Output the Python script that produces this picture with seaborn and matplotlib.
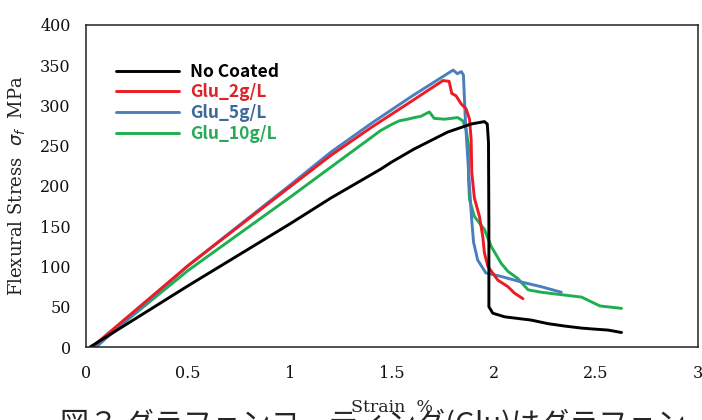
import numpy as np
import pandas as pd
import matplotlib
matplotlib.use("Agg")
import matplotlib.pyplot as plt
import seaborn as sns

# Strain (%) / flexural stress (MPa)
no_coated_strain = [0.02, 0.5, 1.0, 1.2, 1.445, 1.5, 1.609, 1.773, 1.888, 1.953, 1.967, 1.973,
                    1.975, 1.975, 1.994, 2.052, 2.183, 2.265, 2.347, 2.429, 2.478, 2.56, 2.625]
no_coated_stress = [0, 76, 153, 185, 221, 230, 246, 267, 277, 280, 277, 254,
                    150, 50, 42, 37.5, 33.4, 29, 26, 23.5, 22.5, 21, 18]

glu2_strain = [0.03, 0.5, 1.0, 1.2, 1.4, 1.6, 1.75, 1.78, 1.793, 1.814, 1.839, 1.863, 1.880,
               1.888, 1.891, 1.904, 1.929, 1.945, 1.953, 1.970, 2.019, 2.068, 2.10, 2.142]
glu2_stress = [0, 101, 199, 238, 273, 306, 331, 330, 315, 312, 302, 296, 283,
               258, 217, 185, 162, 137, 117, 100, 83, 75, 67, 60]

glu5_strain = [0.05, 0.5, 1.0, 1.2, 1.4, 1.6, 1.7, 1.80, 1.82, 1.84, 1.85, 1.86, 1.875,
               1.89, 1.90, 1.92, 1.96, 2.03, 2.13, 2.23, 2.33]
glu5_stress = [0, 101, 201, 242, 278, 312, 328, 344, 339.5, 342, 338, 280, 220,
               160, 130, 108, 92, 88, 81, 75, 68]

glu10_strain = [0.04, 0.5, 1.0, 1.3, 1.445, 1.495, 1.536, 1.577, 1.61, 1.642, 1.683, 1.707,
                1.757, 1.822, 1.847, 1.863, 1.875, 1.875, 1.880, 1.904, 1.953, 1.986, 2.035,
                2.068, 2.117, 2.167, 2.232, 2.33, 2.429, 2.47, 2.519, 2.625]
glu10_stress = [0, 95, 186, 242, 269, 276, 281, 283, 285, 286.6, 292, 284,
                283, 285, 281, 271, 250, 208, 183, 162, 146, 125, 104,
                94, 85, 71, 68, 65, 62, 57, 51, 48]

series_names = ["No Coated", "Glu_2g/L", "Glu_5g/L", "Glu_10g/L"]
line_colors = ["#000000", "#ec1c24", "#4a7fbe", "#1faf50"]
text_colors = ["#000000", "#d9252b", "#3d6a9c", "#2aa95a"]

x_ticks = [0, 0.5, 1, 1.5, 2, 2.5, 3]
x_tick_labels = ["0", "0.5", "1", "1.5", "2", "2.5", "3"]
y_ticks = [0, 50, 100, 150, 200, 250, 300, 350, 400]

caption = "図３ グラフェンコーティング(Glu)はグラフェン"

sns.set_style("white")
plt.rcParams["font.family"] = ["DejaVu Serif"]

fig = plt.figure(figsize=(7.02, 4.2), dpi=100)
ax = fig.add_axes([0.1225, 0.1738, 0.8718, 0.7667])

curves = [(no_coated_strain, no_coated_stress), (glu2_strain, glu2_stress),
          (glu5_strain, glu5_stress), (glu10_strain, glu10_stress)]
# draw green/blue/red first so black is on top like the reference
for idx in [3, 2, 1, 0]:
    xs, ys = curves[idx]
    df = pd.DataFrame({"strain": xs, "stress": ys})
    sns.lineplot(data=df, x="strain", y="stress", sort=False, estimator=None,
                 color=line_colors[idx], linewidth=2.1, label=series_names[idx], ax=ax)

ax.set_xlim(0, 3)
ax.set_ylim(0, 400)
ax.set_xticks(x_ticks)
ax.set_xticklabels(x_tick_labels)
ax.set_yticks(y_ticks)
ax.tick_params(axis="x", direction="in", length=4, width=1, pad=13, labelsize=11.5, colors="#222222")
ax.tick_params(axis="y", direction="out", length=6, width=1, pad=5, labelsize=11.5, colors="#222222")
ax.tick_params(axis="both", labelcolor="#111111")

for side in ["left", "bottom", "top", "right"]:
    ax.spines[side].set_visible(True)
    ax.spines[side].set_color("#222222")
    ax.spines[side].set_linewidth(1.1)

ax.set_ylabel(r"Flexural Stress  $\sigma_f$  MPa", fontsize=13, color="#222222")
ax.yaxis.set_label_coords(-0.096, 0.5)
ax.set_xlabel("Strain  %", fontsize=12.5, color="#222222")
ax.xaxis.set_label_coords(0.5, -0.16)

# legend in original order
handles, labels = ax.get_legend_handles_labels()
order = [labels.index(n) for n in series_names]
leg = ax.legend([handles[i] for i in order], series_names, loc="upper left",
                bbox_to_anchor=(0.035, 0.91), frameon=False, handlelength=3.6,
                handletextpad=0.65, labelspacing=0.16, borderpad=0,
                prop={"family": ["Noto Sans CJK JP", "DejaVu Sans"], "weight": "bold", "size": 12.5})
for txt, c in zip(leg.get_texts(), text_colors):
    txt.set_color(c)

fig.text(60 / 702, 1 - 409 / 420, caption,
         fontsize=21, va="top", ha="left", family=["Noto Sans CJK JP", "DejaVu Sans"])

fig.savefig("out.png", dpi=100)
plt.close(fig)
